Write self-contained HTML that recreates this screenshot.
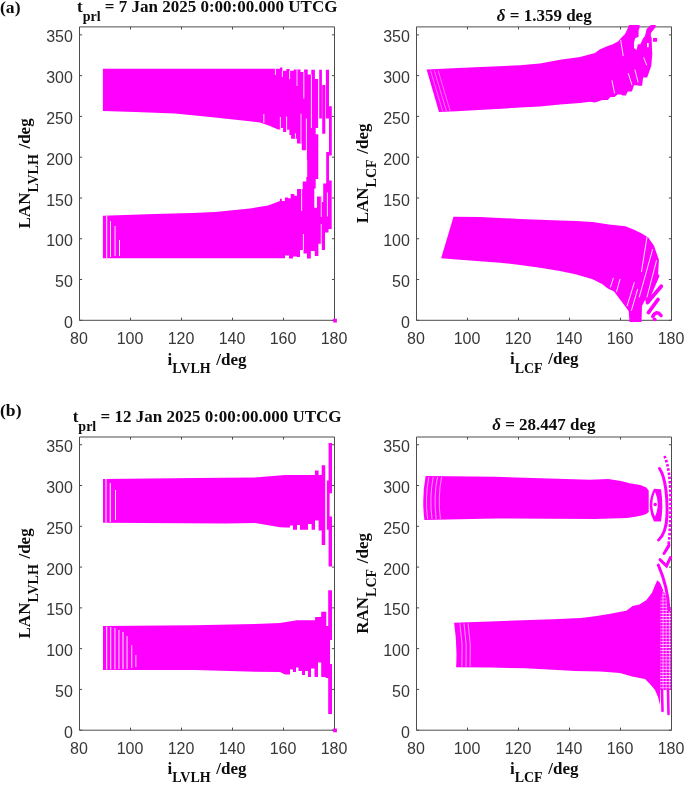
<!DOCTYPE html>
<html><head><meta charset="utf-8"><style>
html,body{margin:0;padding:0;background:#fff;width:685px;height:785px;overflow:hidden}
svg{display:block;will-change:transform}
.tk{font-family:"Liberation Sans",sans-serif;font-size:16px;fill:#383838}
.ttl{font-family:"Liberation Serif",serif;font-weight:bold;font-size:17px;fill:#0d0d0d}
.sub{font-size:14px}
</style></head><body>
<svg width="685" height="785" viewBox="0 0 685 785">
<path d="M79.5 26.9V320.3H334.5V26.9Z" fill="none" stroke="#4d4d4d" stroke-width="1"/>
<path d="M79.50 320.3v-2.6M79.50 26.9v2.6M130.50 320.3v-2.6M130.50 26.9v2.6M181.50 320.3v-2.6M181.50 26.9v2.6M232.50 320.3v-2.6M232.50 26.9v2.6M283.50 320.3v-2.6M283.50 26.9v2.6M334.50 320.3v-2.6M334.50 26.9v2.6M79.5 320.30h2.6M334.5 320.30h-2.6M79.5 279.52h2.6M334.5 279.52h-2.6M79.5 238.74h2.6M334.5 238.74h-2.6M79.5 197.97h2.6M334.5 197.97h-2.6M79.5 157.19h2.6M334.5 157.19h-2.6M79.5 116.41h2.6M334.5 116.41h-2.6M79.5 75.63h2.6M334.5 75.63h-2.6M79.5 34.86h2.6M334.5 34.86h-2.6" stroke="#4d4d4d" stroke-width="1" fill="none"/>
<text x="79.00" y="343.70" class="tk" text-anchor="middle">80</text>
<text x="130.00" y="343.70" class="tk" text-anchor="middle">100</text>
<text x="181.00" y="343.70" class="tk" text-anchor="middle">120</text>
<text x="232.00" y="343.70" class="tk" text-anchor="middle">140</text>
<text x="283.00" y="343.70" class="tk" text-anchor="middle">160</text>
<text x="334.00" y="343.70" class="tk" text-anchor="middle">180</text>
<text x="72.90" y="327.90" class="tk" text-anchor="end">0</text>
<text x="72.90" y="287.12" class="tk" text-anchor="end">50</text>
<text x="72.90" y="246.34" class="tk" text-anchor="end">100</text>
<text x="72.90" y="205.57" class="tk" text-anchor="end">150</text>
<text x="72.90" y="164.79" class="tk" text-anchor="end">200</text>
<text x="72.90" y="124.01" class="tk" text-anchor="end">250</text>
<text x="72.90" y="83.23" class="tk" text-anchor="end">300</text>
<text x="72.90" y="42.46" class="tk" text-anchor="end">350</text>
<path d="M416.5 26.9V320.3H671.5V26.9Z" fill="none" stroke="#4d4d4d" stroke-width="1"/>
<path d="M416.50 320.3v-2.6M416.50 26.9v2.6M467.50 320.3v-2.6M467.50 26.9v2.6M518.50 320.3v-2.6M518.50 26.9v2.6M569.50 320.3v-2.6M569.50 26.9v2.6M620.50 320.3v-2.6M620.50 26.9v2.6M671.50 320.3v-2.6M671.50 26.9v2.6M416.5 320.30h2.6M671.5 320.30h-2.6M416.5 279.52h2.6M671.5 279.52h-2.6M416.5 238.74h2.6M671.5 238.74h-2.6M416.5 197.97h2.6M671.5 197.97h-2.6M416.5 157.19h2.6M671.5 157.19h-2.6M416.5 116.41h2.6M671.5 116.41h-2.6M416.5 75.63h2.6M671.5 75.63h-2.6M416.5 34.86h2.6M671.5 34.86h-2.6" stroke="#4d4d4d" stroke-width="1" fill="none"/>
<text x="416.00" y="343.70" class="tk" text-anchor="middle">80</text>
<text x="467.00" y="343.70" class="tk" text-anchor="middle">100</text>
<text x="518.00" y="343.70" class="tk" text-anchor="middle">120</text>
<text x="569.00" y="343.70" class="tk" text-anchor="middle">140</text>
<text x="620.00" y="343.70" class="tk" text-anchor="middle">160</text>
<text x="671.00" y="343.70" class="tk" text-anchor="middle">180</text>
<text x="409.90" y="327.90" class="tk" text-anchor="end">0</text>
<text x="409.90" y="287.12" class="tk" text-anchor="end">50</text>
<text x="409.90" y="246.34" class="tk" text-anchor="end">100</text>
<text x="409.90" y="205.57" class="tk" text-anchor="end">150</text>
<text x="409.90" y="164.79" class="tk" text-anchor="end">200</text>
<text x="409.90" y="124.01" class="tk" text-anchor="end">250</text>
<text x="409.90" y="83.23" class="tk" text-anchor="end">300</text>
<text x="409.90" y="42.46" class="tk" text-anchor="end">350</text>
<path d="M79.5 437.0V730.2H334.5V437.0Z" fill="none" stroke="#4d4d4d" stroke-width="1"/>
<path d="M79.50 730.2v-2.6M79.50 437.0v2.6M130.50 730.2v-2.6M130.50 437.0v2.6M181.50 730.2v-2.6M181.50 437.0v2.6M232.50 730.2v-2.6M232.50 437.0v2.6M283.50 730.2v-2.6M283.50 437.0v2.6M334.50 730.2v-2.6M334.50 437.0v2.6M79.5 730.20h2.6M334.5 730.20h-2.6M79.5 689.42h2.6M334.5 689.42h-2.6M79.5 648.64h2.6M334.5 648.64h-2.6M79.5 607.87h2.6M334.5 607.87h-2.6M79.5 567.09h2.6M334.5 567.09h-2.6M79.5 526.31h2.6M334.5 526.31h-2.6M79.5 485.53h2.6M334.5 485.53h-2.6M79.5 444.76h2.6M334.5 444.76h-2.6" stroke="#4d4d4d" stroke-width="1" fill="none"/>
<text x="79.00" y="753.60" class="tk" text-anchor="middle">80</text>
<text x="130.00" y="753.60" class="tk" text-anchor="middle">100</text>
<text x="181.00" y="753.60" class="tk" text-anchor="middle">120</text>
<text x="232.00" y="753.60" class="tk" text-anchor="middle">140</text>
<text x="283.00" y="753.60" class="tk" text-anchor="middle">160</text>
<text x="334.00" y="753.60" class="tk" text-anchor="middle">180</text>
<text x="72.90" y="737.80" class="tk" text-anchor="end">0</text>
<text x="72.90" y="697.02" class="tk" text-anchor="end">50</text>
<text x="72.90" y="656.24" class="tk" text-anchor="end">100</text>
<text x="72.90" y="615.47" class="tk" text-anchor="end">150</text>
<text x="72.90" y="574.69" class="tk" text-anchor="end">200</text>
<text x="72.90" y="533.91" class="tk" text-anchor="end">250</text>
<text x="72.90" y="493.13" class="tk" text-anchor="end">300</text>
<text x="72.90" y="452.36" class="tk" text-anchor="end">350</text>
<path d="M416.5 437.0V730.2H671.5V437.0Z" fill="none" stroke="#4d4d4d" stroke-width="1"/>
<path d="M416.50 730.2v-2.6M416.50 437.0v2.6M467.50 730.2v-2.6M467.50 437.0v2.6M518.50 730.2v-2.6M518.50 437.0v2.6M569.50 730.2v-2.6M569.50 437.0v2.6M620.50 730.2v-2.6M620.50 437.0v2.6M671.50 730.2v-2.6M671.50 437.0v2.6M416.5 730.20h2.6M671.5 730.20h-2.6M416.5 689.42h2.6M671.5 689.42h-2.6M416.5 648.64h2.6M671.5 648.64h-2.6M416.5 607.87h2.6M671.5 607.87h-2.6M416.5 567.09h2.6M671.5 567.09h-2.6M416.5 526.31h2.6M671.5 526.31h-2.6M416.5 485.53h2.6M671.5 485.53h-2.6M416.5 444.76h2.6M671.5 444.76h-2.6" stroke="#4d4d4d" stroke-width="1" fill="none"/>
<text x="416.00" y="753.60" class="tk" text-anchor="middle">80</text>
<text x="467.00" y="753.60" class="tk" text-anchor="middle">100</text>
<text x="518.00" y="753.60" class="tk" text-anchor="middle">120</text>
<text x="569.00" y="753.60" class="tk" text-anchor="middle">140</text>
<text x="620.00" y="753.60" class="tk" text-anchor="middle">160</text>
<text x="671.00" y="753.60" class="tk" text-anchor="middle">180</text>
<text x="409.90" y="737.80" class="tk" text-anchor="end">0</text>
<text x="409.90" y="697.02" class="tk" text-anchor="end">50</text>
<text x="409.90" y="656.24" class="tk" text-anchor="end">100</text>
<text x="409.90" y="615.47" class="tk" text-anchor="end">150</text>
<text x="409.90" y="574.69" class="tk" text-anchor="end">200</text>
<text x="409.90" y="533.91" class="tk" text-anchor="end">250</text>
<text x="409.90" y="493.13" class="tk" text-anchor="end">300</text>
<text x="409.90" y="452.36" class="tk" text-anchor="end">350</text>
<path d="M102.9 68.7L280 68.7L280 67.6L282.4 67.6L282.4 70.8L286.4 70.8L286.4 69L289.6 69L289.6 70.8L293.7 70.8L293.7 69.6L300.5 69.6L300.5 72L304.1 72L304.1 69.6L306.7 69.6L306.7 150.3L301.8 150.3L301.8 143.6L297 143.6L297 138.7L291.1 138.7L291.1 135L289.4 135L289.4 129.8L287.1 129.8L287.1 132L283.1 132L283.1 128L281 128L281 129.4L278 129.4L270 126L260 122.5L245 120.8L210 116.9L175 113.4L135 112L102.9 111.1ZM306.7 69.6L307.7 69.6L307.7 74.5L311.3 74.5L311.3 69.8L314.9 69.8L314.9 78.9L318.1 78.9L318.1 128L315.7 128L315.7 134.2L318.3 134.2L318.3 179L315.7 179L315.7 188.5L314.3 188.5L314.3 215L302.7 215L302.7 181.4L306.3 181.4L306.3 177L307.2 177L307.2 160L306.7 160ZM102.9 215.8L154.7 213.9L192 213L215 212L250 208.5L268 205.5L280 201L280 198.8L281.8 198.8L281.8 201L284.9 201L284.9 197.5L288 197.5L288 198.3L290.7 198.3L290.7 194L294.3 194L294.3 195.7L297 195.7L297 189L302.7 189L302.7 214L314.3 214L314.3 207.7L317 207.7L317 196.5L321.9 196.5L321.9 202L323.2 202L323.2 183.6L326.2 183.6L326.2 152L329 152L329 180.5L331.7 180.5L331.7 229L328.5 229L328.5 232.6L325 232.6L325 250L321.6 250L321.6 243.8L318.4 243.8L318.4 256L314.8 256L314.8 251L310.8 251L310.8 258.6L307 258.6L307 253.5L303.5 253.5L303.5 250L300 250L300 257L297 257L297 256.5L293 256.5L293 258.6L289 258.6L289 255.5L285 255.5L285 258.2L102.9 258.2ZM319.2 69.8H321.9V118.6H319.2ZM322.2 84.9H325.3V133.8H322.2ZM325.9 69.8H329V118.6H325.9ZM329 106.2H331.8V155.6H329ZM333.2 318.8H336.9V322.6H333.2Z" fill="#ff00ff"/><path d="M281.9 70.8H282.8V76.9H281.9ZM289.2 70.8H290.1V79.3H289.2ZM296.6 69.6H297.4V86.1H296.6ZM303.4 72H304.3V98.5H303.4ZM310.9 74.5H311.8V128H310.9ZM279.9 117H280.8V129.4H279.9ZM286.2 116.4H287.1V132H286.2ZM294.9 133.3H295.8V138.7H294.9ZM300.6 113.7H301.4V143.6H300.6ZM305.9 118.6H306.8V177H305.9ZM263.4 114H264.3V123H263.4ZM274.9 69H275.8V75H274.9ZM106.2 215.8H107.2V258.2H106.2ZM110 221H110.9V257H110ZM114.6 226H115.5V256H114.6ZM119 240H120V256H119ZM301.2 188.5H302.1V211H301.2ZM302.9 234H303.8V250H302.9ZM320.8 196.5H321.6V217H320.8ZM320.8 224H321.6V250H320.8ZM326.9 192.5H327.8V216.6H326.9Z" fill="#fff"/>
<path d="M426.6 69.6L463.8 67.8L520 65.2L540 63.6L560 59.7L580 57.1L595 53.1L599.6 49.5L606.5 46.6L612.8 44.3L617.9 41.5L622 37L625 34L627 30L629.1 24.9L639.6 24.9L639.6 27.5L638.6 30.5L638.6 36.8L635.1 38.2L634 43.1L634 48L636.5 50L637.9 44.2L640.3 44.2L643.1 38.2L645 36L646.6 29L650.8 24.9L655.7 24.9L655.7 27L651 33L650.8 36L651.7 38L652 50L652.3 54L651.3 65.8L647.2 77.6L643.1 77.6L642.1 85.8L639 85.8L637 85.3L634 85.3L631.9 91.4L627.8 91.4L625.8 95.5L622.7 95.5L620.7 94.5L617.6 94.5L614.5 97L610.4 97L607.9 100.1L602.3 100.1L595 102.5L590 101.8L580 103L560 104.4L540 106.4L520 107.6L456.5 111.2L439 111.9ZM453.5 216.7L480 217L520 218.9L560 220.4L576 220.9L592.7 222.1L609 224.5L625.4 226.2L633.6 229.4L641.8 233.5L648.3 237.6L654 245.8L658.9 259.7L658.1 275.2L651 290L645 300L642 306L641.5 322L629.5 322L628.7 311.2L623.8 304.6L618.9 298.1L614 291.6L607.4 288.3L602.5 284.2L592.7 279.3L576.4 274.4L560 271.1L540 267.8L520 264.9L500 262.7L460 259.7L441.1 258.3ZM653 37.9H657.1V41.7H653Z" fill="#ff00ff"/><path d="M661.3 286.3L647.5 302.5M658 299.5L648.5 312.5M657.5 276L647 300" stroke="#ff00ff" stroke-width="3.8" stroke-linecap="round" fill="none"/><path d="M652.8 316.5Q656.5 309.5 661 315.5" stroke="#ff00ff" stroke-width="3.6" fill="none" stroke-linecap="round"/><circle cx="654.6" cy="319.3" r="1.9" fill="#ff00ff"/><path d="M647 43.1H648.7V47.3H647Z" fill="#fff"/><path d="M620.7 40.3L623.2 55.7M643.8 57.8L646.6 64.9M612 80.7L614.5 93M628.3 73.5L631.9 84.7M635 70L638 82M613.3 278.2L610.5 287M620 279.3L616.6 291.5M634.3 282.6L627.1 305.9M637.6 289.3L631.5 310.3M647 237.2L641.5 271.5M652.6 249.4L639.3 297M656.5 260.5L647 297" stroke="#fff" stroke-width="0.9" stroke-linecap="round" fill="none"/><path d="M430.5 70.5L442.6 111M434.3 70.5L446.4 111M438.1 70.5L450.2 111" stroke="#fff" stroke-width="0.8" stroke-opacity="0.55" fill="none"/>
<path d="M103 479L195 478L255 477.6L285 475L315 475L315 470.6L318.6 470.6L318.6 475L321.7 475L321.7 465.2L325.6 465.2L325.6 545.1L321.7 545.1L321.7 530.4L318.6 530.4L318.6 520.6L315 520.6L315 529.7L311.6 529.7L311.6 524L308 524L308 529.7L300 529.7L300 525L297 525L297 529.7L293 529.7L293 525.5L290 525.5L290 527.6L285 527.6L280 527.3L270 525.6L255 523.1L225 523.6L103 522.8ZM103 626.1L195 625.3L255 624L280 622.9L297 620.3L315.1 620.3L315.1 616.9L321.2 616.9L321.2 611.7L326.3 611.7L326.3 626L326.3 678L326.3 677.1L321.2 677.1L321.2 662.5L318 662.5L318 677.1L314.5 677.1L314.5 668.5L311 668.5L311 677.1L308 677.1L308 671L305 671L305 675L302 675L302 671L298.5 671L298.5 667.6L296 667.6L296 672L293 672L293 669.4L290 669.4L290 674.5L285 674.5L280 672L255 671.7L195 670L103 669.9ZM326.8 480.6H329.6V529.7H326.8ZM328.6 443.1H332V493.3H328.6ZM328.6 516.4H332V566.5H328.6ZM325.6 626H328.4V678H325.6ZM328.2 590.2H332V640H328.2ZM328.2 640H330V664H328.2ZM328.2 664H332V714.1H328.2ZM333.2 728.4H336.9V732.2H333.2Z" fill="#ff00ff"/><path d="M105.5 479H106.5V522.8H105.5ZM109.8 483H110.8V522H109.8ZM115 490H115.9V520H115ZM106.2 626.5H107.2V669.5H106.2ZM110.3 627H111.2V669.5H110.3ZM114.5 628H115.4V669.5H114.5ZM118.5 630H119.4V669H118.5ZM122.5 632H123.5V669H122.5ZM126.6 636H127.5V669H126.6ZM131.4 645H132.2V668H131.4ZM135.5 655H136.3V667H135.5ZM325.4 465H326.3V545H325.4Z" fill="#fff"/>
<path d="M425.6 476.1L495 476.8L590 479.7L608 479.1L621.1 480.9L629.5 483.3L640.3 485.1L646.3 487.5L648.7 490.5L648.7 512L646.3 514L641.5 515.6L635.5 516.8L627 518L595 519L495 518.4L424.4 519.9Q421.6 497.8 425.6 476.1ZM654 488.7L661 489.3Q663.6 505 661 521.5L654 521.6Q645.5 505 654 488.7ZM454.1 622.8L490 621.6L530 619.9L553 619.3L581 617.9L595 616.2L609 613.9L618 612.3L626.3 610.7L632.6 606L639.4 604.4L646.2 600.2L652 592.8L654.7 586L657.3 580.2L660 582.8L663 590L660.5 600L660 705L658 697L655 690L650 684L645 679L632 676.5L620 673L600 671.5L575 671L553 669.7L525 668.3L490 667.5L456.1 667.2Q457.5 645 454.1 622.8Z" fill="#ff00ff"/><path d="M655 491.7Q660.5 504 655 516.8Q649.5 504 655 491.7Z" fill="#fff"/><circle cx="655.2" cy="504.5" r="1.8" fill="#ff00ff"/><path d="M659.5 468.5C666 478 667.5 500 667 515C666.5 528 663 536 658.6 540" stroke="#ff00ff" stroke-width="3" fill="none" stroke-linecap="round"/><path d="M664.5 456C668.5 465 670.5 480 670.5 500C670.5 525 669.5 540 668 548" stroke="#ff00ff" stroke-width="2.7" fill="none" stroke-dasharray="2.6 1.7"/><path d="M664 553.5Q667 549 669 545M660 559.7L666.5 566L670.4 557.6M658.3 565C664 578 668 590 669 610" stroke="#ff00ff" stroke-width="3" fill="none" stroke-linecap="round"/><defs><pattern id="dots" width="3.1" height="3.1" patternUnits="userSpaceOnUse"><rect width="2.5" height="2.5" fill="#ff00ff"/></pattern></defs><path d="M660 584L664 592L668 600L671 610L671 690L660 690Z" fill="url(#dots)"/><path d="M662 690L662.5 711M668 690L668.5 714" stroke="#ff00ff" stroke-width="2.6" stroke-linecap="round" fill="none"/><path d="M428.8 477Q424.8 497.8 427.6 519M433.2 477Q429.2 497.8 432.0 519M437.4 477Q433.4 497.8 436.2 519M441.6 477Q437.6 497.8 440.4 519M459.9 623.5Q463.3 645 461.9 666.5M464.0 623.5Q467.4 645 466.0 666.5M468.1 623.5Q471.5 645 470.1 666.5" stroke="#fff" stroke-width="0.7" stroke-opacity="0.85" fill="none"/>
<text x="0" y="13" class="ttl" style="font-size:17.6px">(a)</text>
<text x="0" y="415.9" class="ttl" style="font-size:17.6px">(b)</text>
<text x="77.0" y="11.6" class="ttl">t<tspan class="sub" dy="9">prl</tspan><tspan dy="-9"> = 7 Jan 2025 0:00:00.000 UTCG</tspan></text>
<text x="72.7" y="422.4" class="ttl">t<tspan class="sub" dy="9">prl</tspan><tspan dy="-9"> = 12 Jan 2025 0:00:00.000 UTCG</tspan></text>
<text x="544.2" y="20.9" class="ttl" text-anchor="middle"><tspan font-style="italic">δ</tspan> = 1.359 deg</text>
<text x="543.9" y="430.2" class="ttl" text-anchor="middle"><tspan font-style="italic">δ</tspan> = 28.447 deg</text>
<text x="207" y="364.7" class="ttl" text-anchor="middle">i<tspan class="sub" dy="8.5">LVLH</tspan><tspan dy="-8.5" dx="1.4"> /deg</tspan></text>
<text x="544.2" y="364.3" class="ttl" text-anchor="middle">i<tspan class="sub" dy="8.5">LCF</tspan><tspan dy="-8.5" dx="1.4"> /deg</tspan></text>
<text x="207" y="773.7" class="ttl" text-anchor="middle">i<tspan class="sub" dy="8.5">LVLH</tspan><tspan dy="-8.5" dx="1.4"> /deg</tspan></text>
<text x="544.2" y="773.7" class="ttl" text-anchor="middle">i<tspan class="sub" dy="8.5">LCF</tspan><tspan dy="-8.5" dx="1.4"> /deg</tspan></text>
<text transform="translate(29.8,173.4) rotate(-90)" x="0" y="0" class="ttl" text-anchor="middle">LAN<tspan class="sub" dy="8.4">LVLH</tspan><tspan dy="-8.4" dx="1.4"> /deg</tspan></text>
<text transform="translate(367.5,173.4) rotate(-90)" x="0" y="0" class="ttl" text-anchor="middle">LAN<tspan class="sub" dy="8.4">LCF</tspan><tspan dy="-8.4" dx="1.4"> /deg</tspan></text>
<text transform="translate(29.8,583.4) rotate(-90)" x="0" y="0" class="ttl" text-anchor="middle">LAN<tspan class="sub" dy="8.4">LVLH</tspan><tspan dy="-8.4" dx="1.4"> /deg</tspan></text>
<text transform="translate(367.5,583.4) rotate(-90)" x="0" y="0" class="ttl" text-anchor="middle">RAN<tspan class="sub" dy="8.4">LCF</tspan><tspan dy="-8.4" dx="1.4"> /deg</tspan></text>
</svg>
</body></html>
